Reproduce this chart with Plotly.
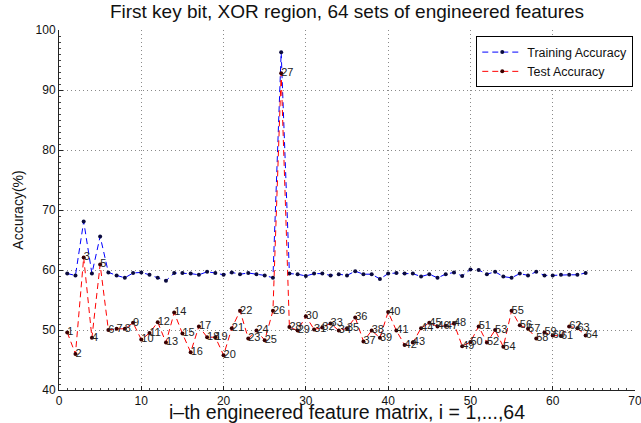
import plotly.graph_objects as go

feature_index = list(range(1, 65))

training_accuracy = [
    59.4, 59.1, 68.1, 59.4, 65.6, 59.6, 59.1, 58.7, 59.5, 59.6,
    59.2, 58.7, 58.2, 59.5, 59.5, 59.4, 59.2, 59.7, 59.5, 59.2,
    59.6, 59.3, 59.5, 59.3, 59.1, 58.7, 96.3, 59.4, 59.3, 59.0,
    59.4, 59.4, 59.1, 59.3, 59.1, 59.8, 59.3, 59.3, 58.5, 59.4,
    59.5, 59.4, 59.4, 58.9, 59.3, 58.7, 59.3, 59.6, 59.0, 60.1,
    60.0, 59.3, 59.7, 58.9, 58.7, 59.4, 59.1, 59.7, 59.1, 59.1,
    59.2, 59.2, 59.2, 59.5,
]

test_accuracy = [
    49.6, 46.0, 62.1, 48.7, 60.9, 50.0, 50.2, 50.2, 51.2, 48.4,
    49.5, 51.3, 47.9, 52.9, 49.4, 46.3, 50.6, 48.8, 48.8, 45.8,
    50.3, 53.2, 48.6, 49.9, 48.3, 53.2, 92.8, 50.5, 49.9, 52.3,
    50.1, 50.4, 51.1, 49.9, 50.3, 52.1, 48.1, 49.9, 48.7, 53.0,
    49.9, 47.5, 47.9, 50.3, 51.2, 50.6, 50.7, 51.1, 47.3, 48.0,
    50.6, 47.9, 50.0, 47.2, 53.2, 50.8, 50.2, 48.6, 49.6, 49.1,
    49.0, 50.6, 50.3, 49.1,
]

point_labels = [str(i) for i in feature_index]

x_ticks = [0, 10, 20, 30, 40, 50, 60, 70]
y_ticks = [40, 50, 60, 70, 80, 90, 100]

font_family = "Liberation Sans, Arial, sans-serif"

fig = go.Figure()

fig.add_trace(go.Scatter(
    x=feature_index, y=training_accuracy, name="Training Accuracy",
    mode="lines+markers",
    line=dict(color="#0000ff", width=1, dash="6px,4px"),
    marker=dict(color="#0a0a3c", size=4),
))

fig.add_trace(go.Scatter(
    x=feature_index, y=test_accuracy, name="Test Accuracy",
    mode="lines+markers",
    line=dict(color="#ff0000", width=1, dash="6px,4px"),
    marker=dict(color="#3a0000", size=4),
))

fig.add_trace(go.Scatter(
    x=feature_index, y=test_accuracy, mode="text",
    text=point_labels, textposition="middle right",
    textfont=dict(family=font_family, size=11, color="#222222"),
    showlegend=False, hoverinfo="skip",
))

axis_common = dict(
    showline=True, linecolor="#222222", linewidth=1, mirror=False,
    ticks="inside", ticklen=4, tickcolor="#222222",
    showgrid=True, gridcolor="#8a8a8a", griddash="1px,3px", gridwidth=1,
    zeroline=False, automargin=False, ticklabeloverflow="allow",
    tickfont=dict(family=font_family, size=12, color="#111111"),
)

fig.update_xaxes(
    range=[0, 70], tickvals=x_ticks,
    minor=dict(ticks="inside", ticklen=2, dtick=1, tickcolor="#444444", showgrid=False),
    title=dict(text="i\u2013th engineered feature matrix, i = 1,...,64",
               font=dict(family=font_family, size=19.5, color="#111111"), standoff=0),
    **axis_common,
)
fig.update_yaxes(
    range=[40, 100], tickvals=y_ticks,
    minor=dict(ticks="inside", ticklen=2, dtick=1, tickcolor="#444444", showgrid=False),
    title=dict(text="Accuracy(%)",
               font=dict(family=font_family, size=14, color="#111111"), standoff=8),
    **axis_common,
)

fig.update_layout(
    width=641, height=423,
    margin=dict(l=59, r=6, t=30, b=33),
    paper_bgcolor="white", plot_bgcolor="white",
    title=dict(text="First key bit, XOR region, 64 sets of engineered features",
               xref="paper", x=0.5, xanchor="center", y=0.972, yanchor="middle",
               font=dict(family=font_family, size=19, color="#111111")),
    legend=dict(x=0.997, xanchor="right", y=0.982, yanchor="top",
                bgcolor="white", bordercolor="#000000", borderwidth=1,
                font=dict(family=font_family, size=12.5, color="#111111"),
                tracegroupgap=0, itemwidth=40),
    showlegend=True,
)

fig.write_html("out.html",
               config={"displayModeBar": False},
               post_script="document.body.style.margin='0px';document.body.style.overflow='hidden';")
